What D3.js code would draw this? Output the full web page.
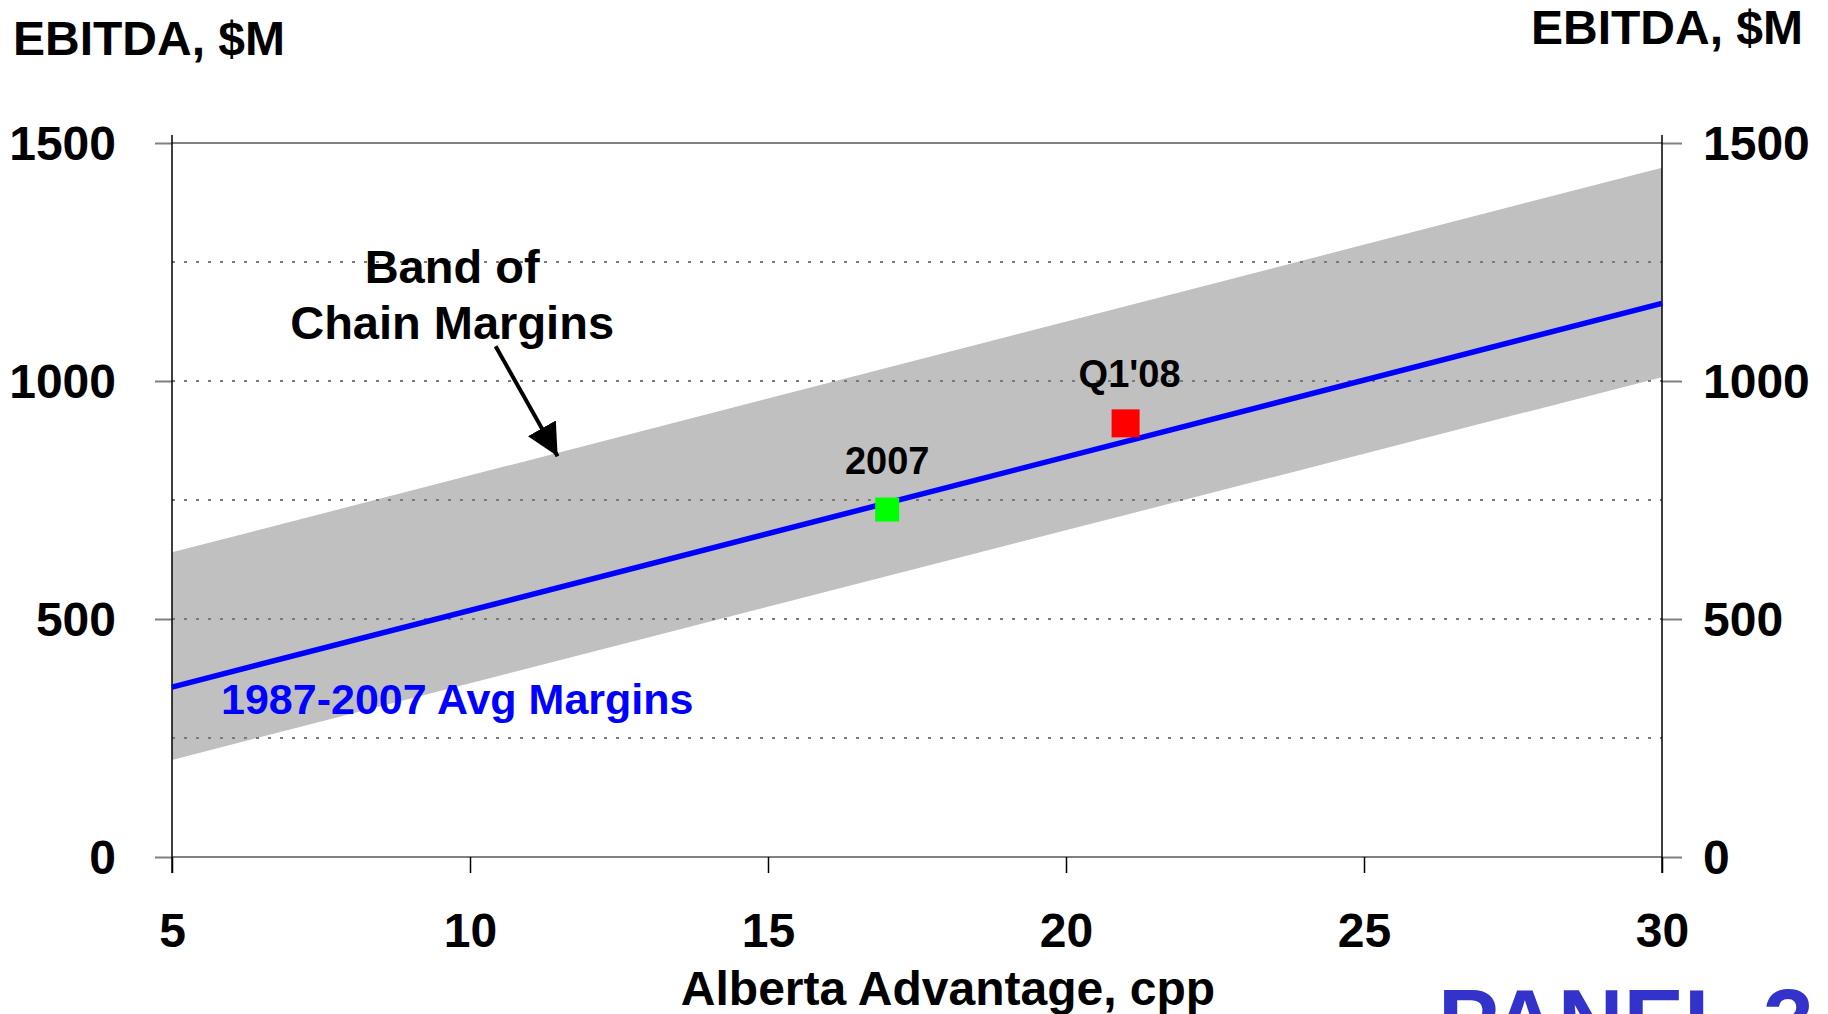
<!DOCTYPE html>
<html>
<head>
<meta charset="utf-8">
<script src="https://cdn.jsdelivr.net/npm/d3@7"></script>
<style>
  html, body { margin: 0; padding: 0; background: #fff; }
  svg { display: block; font-family: "Liberation Sans", Arial, sans-serif; font-weight: bold; }
</style>
</head>
<body>
<svg id="chart" width="1828" height="1014"></svg>
<script>
// Alberta advantage (cpp) at the two ends of the range
const advantage = [5, 30];
// EBITDA band of chain margins, $M
const bandLow = [204, 1008];
const bandHigh = [640, 1448];
// 1987-2007 average margins, $M
const avgMargins = [357, 1163];
// Highlighted observations
const pointLabels = ["2007", "Q1'08"];
const pointX = [17, 21];
const pointY = [730, 911];
const pointColors = ["#00FF00", "#FF0000"];
const pointSizes = [24, 28];
// Axis ticks
const xTicks = [5, 10, 15, 20, 25, 30];
const yTicks = [0, 500, 1000, 1500];
const gridValues = [250, 500, 750, 1000, 1250];

const svg = d3.select("#chart");
const plotL = 172, plotR = 1662, plotT = 143, plotB = 857;
const x = d3.scaleLinear().domain([5, 30]).range([plotL, plotR]);
const y = d3.scaleLinear().domain([0, 1500]).range([plotB, plotT]);
const fmt = d3.format("d");

const rows = advantage.map((a, i) => ({ a, lo: bandLow[i], hi: bandHigh[i], avg: avgMargins[i] }));

// shaded band
svg.append("path")
  .datum(rows)
  .attr("fill", "#C0C0C0")
  .attr("d", d3.area().x(d => x(d.a)).y0(d => y(d.lo)).y1(d => y(d.hi)));

// dotted gridlines inside the plot
svg.append("g").selectAll("line").data(gridValues).join("line")
  .attr("x1", plotL).attr("x2", plotR)
  .attr("y1", d => y(d)).attr("y2", d => y(d))
  .attr("stroke", "#7a7a7a").attr("stroke-width", 1.8)
  .attr("stroke-dasharray", "3,9");

// left value axis
const yl = svg.append("g").attr("transform", `translate(${plotL},0)`)
  .call(d3.axisLeft(y).tickValues(yTicks).tickFormat(fmt).tickSize(17).tickPadding(39));
yl.select(".domain").remove();
yl.selectAll("line").attr("stroke", "#808080").attr("stroke-width", 2);
yl.selectAll("text").attr("font-size", 48).attr("fill", "#000").attr("dy", "0.35em");

// right value axis
const yr = svg.append("g").attr("transform", `translate(${plotR},0)`)
  .call(d3.axisRight(y).tickValues(yTicks).tickFormat(fmt).tickSize(20).tickPadding(21));
yr.select(".domain").remove();
yr.selectAll("line").attr("stroke", "#808080").attr("stroke-width", 2);
yr.selectAll("text").attr("font-size", 48).attr("fill", "#000").attr("dy", "0.35em");

// solid lines at the top and at zero, across the full plot width
svg.append("g").selectAll("line").data([0, 1500]).join("line")
  .attr("x1", plotL).attr("x2", plotR)
  .attr("y1", d => y(d)).attr("y2", d => y(d))
  .attr("stroke", "#808080").attr("stroke-width", 2);

// bottom axis
const xa = svg.append("g").attr("transform", `translate(0,${plotB})`)
  .call(d3.axisBottom(x).tickValues(xTicks).tickFormat(fmt).tickSize(16).tickPadding(40));
xa.select(".domain").remove();
xa.selectAll("line").attr("stroke", "#000").attr("stroke-width", 1.5);
xa.selectAll("text").attr("font-size", 48).attr("fill", "#000");

// vertical axis lines
svg.append("g").selectAll("line").data([5, 30]).join("line")
  .attr("x1", d => x(d)).attr("x2", d => x(d))
  .attr("y1", y(1500) - 8).attr("y2", plotB + 16)
  .attr("stroke", "#000").attr("stroke-width", 1.5);

// average margin line
svg.append("path")
  .datum(rows)
  .attr("fill", "none").attr("stroke", "#0000FF").attr("stroke-width", 5.5)
  .attr("d", d3.line().x(d => x(d.a)).y(d => y(d.avg)));

// highlighted points
const pts = pointLabels.map((l, i) => ({ l, px: pointX[i], py: pointY[i], c: pointColors[i], s: pointSizes[i] }));
svg.append("g").selectAll("rect").data(pts).join("rect")
  .attr("x", d => x(d.px) - d.s / 2).attr("y", d => y(d.py) - d.s / 2)
  .attr("width", d => d.s).attr("height", d => d.s)
  .attr("fill", d => d.c);
svg.append("g").selectAll("text").data(pts).join("text")
  .attr("x", d => x(d.px) + (d.l === "2007" ? 0 : 4))
  .attr("y", d => y(d.py) - 36)
  .attr("text-anchor", "middle").attr("font-size", 38).attr("fill", "#000")
  .text(d => d.l);

// band annotation
const note = svg.append("text").attr("text-anchor", "middle").attr("font-size", 47).attr("fill", "#000");
note.append("tspan").attr("x", x(9.7)).attr("y", 283).text("Band of");
note.append("tspan").attr("x", x(9.7)).attr("y", 339).text("Chain Margins");

svg.append("defs").append("marker")
  .attr("id", "head").attr("viewBox", "0 0 10 10")
  .attr("refX", 10).attr("refY", 5)
  .attr("markerWidth", 8).attr("markerHeight", 8)
  .attr("markerUnits", "strokeWidth").attr("orient", "auto")
  .append("path").attr("d", "M0,0 L10,5 L0,10 Z").attr("fill", "#000");
svg.append("line")
  .attr("x1", x(10.43)).attr("y1", y(1073))
  .attr("x2", x(11.47)).attr("y2", y(842))
  .attr("stroke", "#000").attr("stroke-width", 4)
  .attr("marker-end", "url(#head)");

// average line label
svg.append("text")
  .attr("x", 221).attr("y", 714)
  .attr("font-size", 43).attr("fill", "#0000FF")
  .text("1987-2007 Avg Margins");

// axis titles
svg.append("text").attr("x", 13).attr("y", 55).attr("font-size", 48).attr("fill", "#000").text("EBITDA, $M");
svg.append("text").attr("x", 1803).attr("y", 44).attr("text-anchor", "end").attr("font-size", 48).attr("fill", "#000").text("EBITDA, $M");
svg.append("text").attr("x", 948).attr("y", 1005).attr("text-anchor", "middle").attr("font-size", 48).attr("fill", "#000").text("Alberta Advantage, cpp");

// panel tag
svg.append("text").attr("x", 1438).attr("y", 1053).attr("font-size", 91).attr("fill", "#3333CC").text("PANEL 3");
</script>
</body>
</html>
